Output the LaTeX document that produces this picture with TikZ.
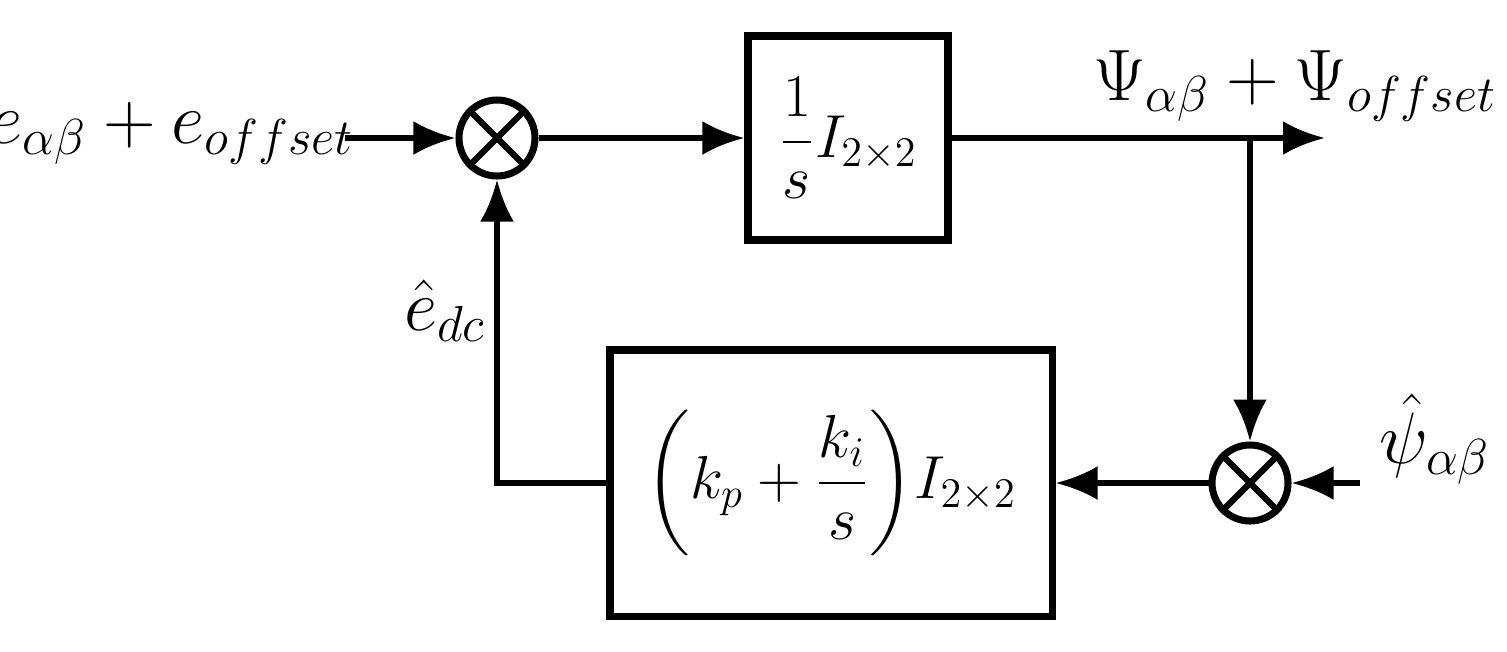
\documentclass[tikz,border=0pt]{standalone}
\usepackage{amsmath}
\usepackage{fontspec}
\setmainfont{Liberation Serif}
\usetikzlibrary{arrows.meta}
\begin{document}
\begin{tikzpicture}[line width=1.6pt,
	arr/.style={-{Latex[length=0.42cm,width=0.34cm]}},
	blk/.style={draw,line width=2pt,inner sep=0pt},
	sum/.style={draw,line width=2pt,circle,minimum size=0.76cm,inner sep=0pt},
	lbl/.style={font=\huge}]
	\useasboundingbox (0,0) rectangle (15.07,6.51);
	%blocks
	\node[blk,minimum width=2cm,minimum height=2.04cm] (intg) at (8.48,5.13) {};
	\node[font=\LARGE] at (8.48,5.13) {$\dfrac{1}{s}I_{2\times 2}$};
	\node[blk,minimum width=4.42cm,minimum height=2.66cm] (pi) at (8.31,1.68) {};
	\node[font=\LARGE] at (8.31,1.68) {$\left(k_p+\dfrac{k_i}{s}\right)\!I_{2\times 2}$};
	%summers
	\node[sum] (s1) at (4.97,5.13) {};
	\draw[line width=1.8pt] (s1.north west)--(s1.south east) (s1.north east)--(s1.south west);
	\node[sum] (s2) at (12.5,1.68) {};
	\draw[line width=1.8pt] (s2.north west)--(s2.south east) (s2.north east)--(s2.south west);
	%coordinates
	\coordinate (in) at (3.45,5.13);
	\coordinate (out) at (13.25,5.13);
	\coordinate (br) at (12.5,5.13);
	\coordinate (ref) at (13.6,1.68);
	\coordinate (fb) at (4.97,1.68);
	%connectors
	\draw[arr] (in)--(s1);
	\draw[arr] (s1)--(intg);
	\draw[arr] (intg)--(out);
	\draw[arr] (br)--(s2);
	\draw[arr] (ref)--(s2);
	\draw[arr] (s2)--(pi);
	\draw[arr] (pi.west)--(fb)--(s1);
	%labels
	\node[lbl] (lin) at (1.72,5.18) {$e_{\alpha\beta}+e_{\mathnormal{offset}}$};
	\node[lbl] (lout) at (12.95,5.65) {$\Psi_{\alpha\beta}+\Psi_{\mathnormal{offset}}$};
	\node[lbl] (ledc) at (4.45,3.4) {$\hat{e}_{dc}$};
	\node[lbl] (lpsi) at (14.35,2.12) {$\hat{\psi}_{\alpha\beta}$};
\end{tikzpicture}
\end{document}
